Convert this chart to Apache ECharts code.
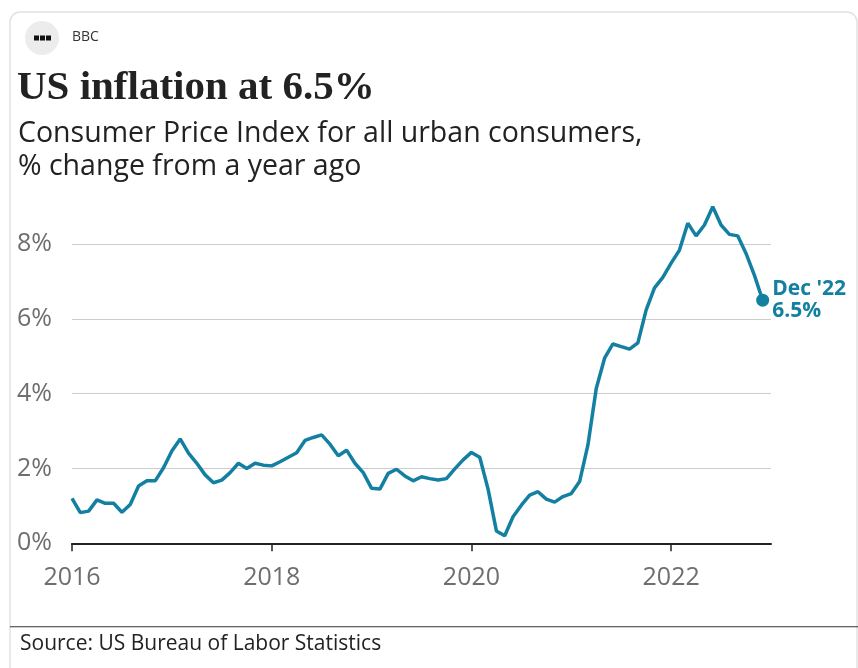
<!DOCTYPE html>
<html>
<head>
<meta charset="utf-8">
<script src="https://cdn.jsdelivr.net/npm/echarts@6/dist/echarts.min.js"></script>
<style>
html,body{margin:0;padding:0;background:#fff;}
#chart{width:858px;height:668px;}
</style>
</head>
<body>
<div id="chart"></div>
<script>
// Data: US CPI, % change from a year ago (monthly, Jan..Dec)
const startYear = 2016;
const cpi2016 = [1.20, 0.82, 0.86, 1.16, 1.07, 1.07, 0.83, 1.04, 1.53, 1.67, 1.67, 2.02];
const cpi2017 = [2.47, 2.79, 2.41, 2.14, 1.83, 1.62, 1.69, 1.89, 2.14, 2.00, 2.14, 2.09];
const cpi2018 = [2.07, 2.18, 2.30, 2.42, 2.75, 2.83, 2.90, 2.65, 2.34, 2.49, 2.14, 1.89];
const cpi2019 = [1.47, 1.45, 1.87, 1.98, 1.80, 1.67, 1.78, 1.73, 1.69, 1.73, 1.99, 2.23];
const cpi2020 = [2.43, 2.30, 1.45, 0.33, 0.20, 0.71, 1.02, 1.29, 1.38, 1.18, 1.10, 1.25];
const cpi2021 = [1.33, 1.65, 2.63, 4.14, 4.95, 5.33, 5.26, 5.19, 5.36, 6.24, 6.83, 7.11];
const cpi2022 = [7.49, 7.84, 8.56, 8.22, 8.51, 9.00, 8.51, 8.26, 8.22, 7.75, 7.17, 6.50];
const yTicks = [0, 2, 4, 6, 8];
const xTickYears = [2016, 2018, 2020, 2022];
const endLabel = ["Dec '22", "6.5%"];

const allValues = [].concat(cpi2016, cpi2017, cpi2018, cpi2019, cpi2020, cpi2021, cpi2022);
const seriesData = allValues.map((v, i) => [i, v]);
const lastIdx = allValues.length - 1;
const xTickValues = xTickYears.map(y => (y - startYear) * 12);

const TEAL = '#1380A1';
const chart = echarts.init(document.getElementById('chart'), null, {renderer: 'canvas'});
chart.setOption({
  animation: false,
  backgroundColor: '#fff',
  grid: {left: 72, right: 87, top: 244.1, bottom: 124.7, containLabel: false},
  xAxis: {
    type: 'value', min: 0, max: 84, interval: 12,
    axisLine: {show: true, lineStyle: {color: '#222', width: 2}},
    axisTick: {show: true, length: 8, lineStyle: {color: '#222', width: 1.5}, customValues: xTickValues},
    axisLabel: {
      customValues: xTickValues, margin: 22,
      color: '#6e6e6e', fontSize: 25, fontFamily: 'Open Sans',
      formatter: v => String(startYear + v / 12)
    },
    splitLine: {show: false}
  },
  yAxis: {
    type: 'value', min: 0, max: 8, interval: 2,
    axisLine: {show: false}, axisTick: {show: false},
    axisLabel: {
      color: '#6e6e6e', fontSize: 25, fontFamily: 'Open Sans',
      align: 'left', margin: 55, verticalAlign: 'middle', padding: [4, 0, 0, 0],
      formatter: v => yTicks.includes(v) ? v + '%' : ''
    },
    splitLine: {show: true, lineStyle: {color: '#cccccc', width: 1}}
  },
  series: [
    {
      type: 'line', data: seriesData, clip: false, symbol: 'none',
      lineStyle: {color: TEAL, width: 3.5}, z: 3
    },
    {
      type: 'scatter', data: [seriesData[lastIdx]], clip: false,
      symbolSize: 13, itemStyle: {color: TEAL, opacity: 1}, z: 4,
      label: {
        show: true, position: 'right', distance: 3,
        formatter: endLabel.join('\n'),
        color: TEAL, fontSize: 21, fontWeight: 'bold', lineHeight: 22,
        fontFamily: 'Open Sans'
      }
    }
  ],
  graphic: [
    {type: 'rect', shape: {x: 10, y: 12, width: 847, height: 700, r: 10}, style: {fill: 'none', stroke: '#e2e2e2', lineWidth: 1.5}, z: -1, silent: true},
    {type: 'circle', shape: {cx: 42, cy: 38, r: 17}, style: {fill: '#ececec'}},
    {type: 'rect', shape: {x: 34, y: 35.5, width: 5, height: 5}, style: {fill: '#111'}},
    {type: 'rect', shape: {x: 40, y: 35.5, width: 5, height: 5}, style: {fill: '#111'}},
    {type: 'rect', shape: {x: 46, y: 35.5, width: 5, height: 5}, style: {fill: '#111'}},
    {type: 'text', x: 72, y: 37.5, style: {text: 'BBC', fill: '#333', fontSize: 14, fontFamily: 'Open Sans', verticalAlign: 'middle'}},
    {type: 'text', x: 17, y: 88, style: {text: 'US inflation at 6.5%', fill: '#222', fontSize: 41, fontWeight: 'bold', fontFamily: 'Liberation Serif', verticalAlign: 'middle'}},
    {type: 'text', x: 18, y: 133.5, style: {text: 'Consumer Price Index for all urban consumers,', fill: '#222', fontSize: 28.5, fontFamily: 'Open Sans', verticalAlign: 'middle'}},
    {type: 'text', x: 18, y: 166.5, style: {text: '% change from a year ago', fill: '#222', fontSize: 28.5, fontFamily: 'Open Sans', verticalAlign: 'middle'}},
    {type: 'rect', shape: {x: 10, y: 626.2, width: 860, height: 1}, style: {fill: '#333'}},
    {type: 'text', x: 20, y: 644.5, style: {text: 'Source: US Bureau of Labor Statistics', fill: '#222', fontSize: 21, fontFamily: 'Open Sans', verticalAlign: 'middle'}}
  ]
});
</script>
</body>
</html>
